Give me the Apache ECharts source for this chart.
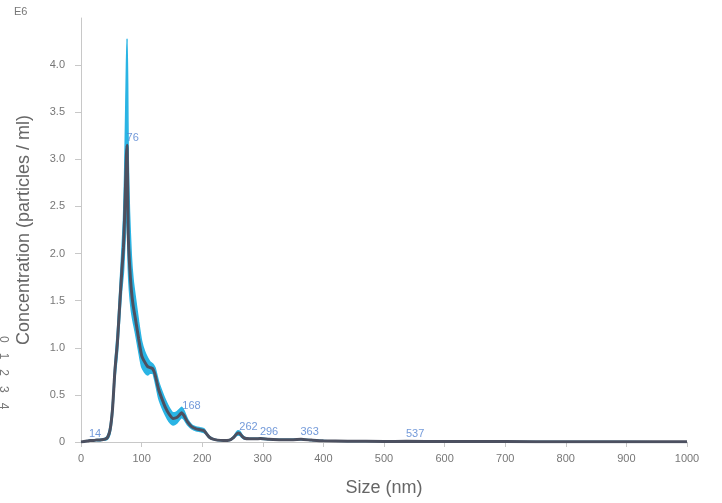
<!DOCTYPE html>
<html>
<head>
<meta charset="utf-8">
<script src="https://cdn.jsdelivr.net/npm/echarts@6/dist/echarts.min.js"></script>
<style>
  html, body { margin: 0; padding: 0; background: #fff; }
  #chart { width: 722px; height: 503px; }
</style>
</head>
<body>
<div id="chart"></div>
<script>
// size bins (nm) and concentration (E6 particles / ml)
const sizes = [0, 5, 10, 15, 20, 25, 30, 35, 40, 44, 48, 52, 56, 60, 64, 67, 70, 72, 74, 75, 76, 77, 78, 80, 83, 86, 90, 95, 100, 105, 110, 114, 118, 122, 128, 134, 139, 145, 152, 158, 163, 166, 170, 176, 183, 190, 197, 203, 208, 212, 218, 225, 235, 245, 252, 256, 259, 262, 266, 270, 278, 288, 296, 310, 330, 350, 363, 380, 400, 440, 500, 537, 600, 700, 800, 900, 1000];
const meanConc = [0, 0.005, 0.01, 0.015, 0.015, 0.02, 0.02, 0.025, 0.03, 0.05, 0.13, 0.35, 0.76, 1.05, 1.47, 1.78, 2.06, 2.4, 2.85, 3.05, 3.15, 2.75, 2.2, 1.9, 1.62, 1.45, 1.3, 1.1, 0.92, 0.85, 0.8, 0.79, 0.78, 0.72, 0.56, 0.45, 0.37, 0.3, 0.25, 0.26, 0.29, 0.31, 0.28, 0.21, 0.16, 0.14, 0.13, 0.12, 0.08, 0.05, 0.03, 0.02, 0.015, 0.02, 0.05, 0.08, 0.095, 0.09, 0.06, 0.04, 0.035, 0.035, 0.036, 0.03, 0.025, 0.025, 0.028, 0.02, 0.012, 0.008, 0.006, 0.007, 0.005, 0.004, 0.003, 0.003, 0.002];
const upperConc = [0, 0.007, 0.013, 0.02, 0.02, 0.025, 0.026, 0.032, 0.04, 0.07, 0.17, 0.42, 0.85, 1.18, 1.62, 1.98, 2.35, 2.85, 3.6, 4.0, 4.28, 3.8, 3.0, 2.45, 1.98, 1.72, 1.52, 1.28, 1.07, 0.96, 0.89, 0.85, 0.83, 0.79, 0.64, 0.53, 0.45, 0.37, 0.31, 0.32, 0.35, 0.37, 0.33, 0.24, 0.18, 0.16, 0.15, 0.14, 0.09, 0.06, 0.035, 0.025, 0.02, 0.025, 0.06, 0.1, 0.12, 0.115, 0.075, 0.05, 0.04, 0.04, 0.042, 0.035, 0.03, 0.03, 0.033, 0.024, 0.015, 0.01, 0.008, 0.009, 0.006, 0.005, 0.004, 0.004, 0.003];
const lowerConc = [0, 0.003, 0.007, 0.01, 0.01, 0.015, 0.014, 0.018, 0.02, 0.03, 0.09, 0.28, 0.67, 0.93, 1.32, 1.6, 1.8, 2.05, 2.3, 2.45, 2.5, 2.2, 1.85, 1.6, 1.4, 1.28, 1.15, 0.97, 0.8, 0.74, 0.71, 0.73, 0.73, 0.65, 0.47, 0.36, 0.29, 0.22, 0.18, 0.2, 0.24, 0.26, 0.24, 0.18, 0.14, 0.12, 0.11, 0.1, 0.07, 0.04, 0.025, 0.015, 0.01, 0.015, 0.04, 0.065, 0.075, 0.07, 0.045, 0.03, 0.03, 0.03, 0.03, 0.025, 0.02, 0.02, 0.023, 0.016, 0.009, 0.006, 0.004, 0.005, 0.004, 0.003, 0.002, 0.002, 0.001];
// labelled peaks
const peakSizes = [14, 76, 168, 262, 296, 363, 537];
const peakConc = [0.012, 3.15, 0.31, 0.09, 0.036, 0.028, 0.007];
const yTicks = [0, 0.5, 1.0, 1.5, 2.0, 2.5, 3.0, 3.5, 4.0];

const chart = echarts.init(document.getElementById('chart'));

const upperData = sizes.map((s, i) => [s, upperConc[i]]);
const lowerData = sizes.map((s, i) => [s, lowerConc[i]]);
const meanData = sizes.map((s, i) => [s, meanConc[i]]);
const peakData = peakSizes.map((s, i) => [s, peakConc[i]]);

const option = {
  animation: false,
  grid: { left: 81, right: 35, top: 18, bottom: 61 },
  xAxis: {
    type: 'value',
    min: 0,
    max: 1000,
    interval: 100,
    name: 'Size (nm)',
    nameLocation: 'middle',
    nameGap: 37,
    nameTextStyle: { fontSize: 18, color: '#666', fontFamily: 'Liberation Sans' },
    axisLine: { lineStyle: { color: '#c8c8c8' } },
    axisTick: { length: 5, lineStyle: { color: '#c8c8c8' } },
    axisLabel: {
      color: '#777',
      fontSize: 11,
      margin: 11,
      fontFamily: 'Liberation Sans',
      formatter: (v) => String(v)
    },
    splitLine: { show: false }
  },
  yAxis: {
    type: 'value',
    min: 0,
    max: 4.5,
    interval: 0.5,
    name: 'Concentration (particles / ml)',
    nameLocation: 'middle',
    nameGap: 48,
    nameTextStyle: { fontSize: 18, color: '#666', fontFamily: 'Liberation Sans' },
    axisLine: { show: true, lineStyle: { color: '#c8c8c8' } },
    axisTick: { show: true, length: 6, customValues: yTicks, lineStyle: { color: '#c8c8c8' } },
    axisLabel: {
      color: '#777',
      fontSize: 11,
      margin: 16,
      fontFamily: 'Liberation Sans',
      customValues: yTicks,
      formatter: (v) => (v === 0 ? '0' : v.toFixed(1))
    },
    splitLine: { show: false }
  },
  graphic: [
    {
      type: 'text',
      left: 14,
      top: 6,
      style: { text: 'E6', fill: '#777', fontSize: 11, fontFamily: 'Liberation Sans' }
    },
    {
      type: 'text',
      x: 9,
      y: 336,
      rotation: -Math.PI / 2,
      style: { text: '0   1   2   3   4', fill: '#777', fontSize: 12, fontFamily: 'Liberation Sans' }
    }
  ],
  series: [
    {
      // upper edge of the error band, filled cyan
      name: 'upper',
      type: 'line',
      data: upperData,
      symbol: 'none',
      smooth: 0.2,
      lineStyle: { width: 1.5, color: '#2ab4e4' },
      areaStyle: { color: '#2ab4e4', opacity: 1 },
      silent: true,
      z: 1
    },
    {
      // lower edge, white fill clears below the band
      name: 'lower',
      type: 'line',
      data: lowerData,
      symbol: 'none',
      smooth: 0.2,
      lineStyle: { width: 1.5, color: '#2ab4e4' },
      areaStyle: { color: '#ffffff', opacity: 1 },
      silent: true,
      z: 1
    },
    {
      name: 'mean',
      type: 'line',
      data: meanData,
      symbol: 'none',
      smooth: 0.2,
      lineStyle: { width: 3, color: '#4c5060' },
      z: 3
    },
    {
      name: 'peaks',
      type: 'scatter',
      data: peakData,
      symbolSize: 1,
      itemStyle: { color: 'transparent' },
      label: {
        show: true,
        position: 'right',
        distance: 0,
        offset: [-1, -7],
        formatter: (p) => String(p.value[0]),
        color: '#4f7fcf',
        fontSize: 11,
        fontFamily: 'Liberation Sans'
      },
      z: 4
    }
  ]
};

chart.setOption(option);
</script>
</body>
</html>
